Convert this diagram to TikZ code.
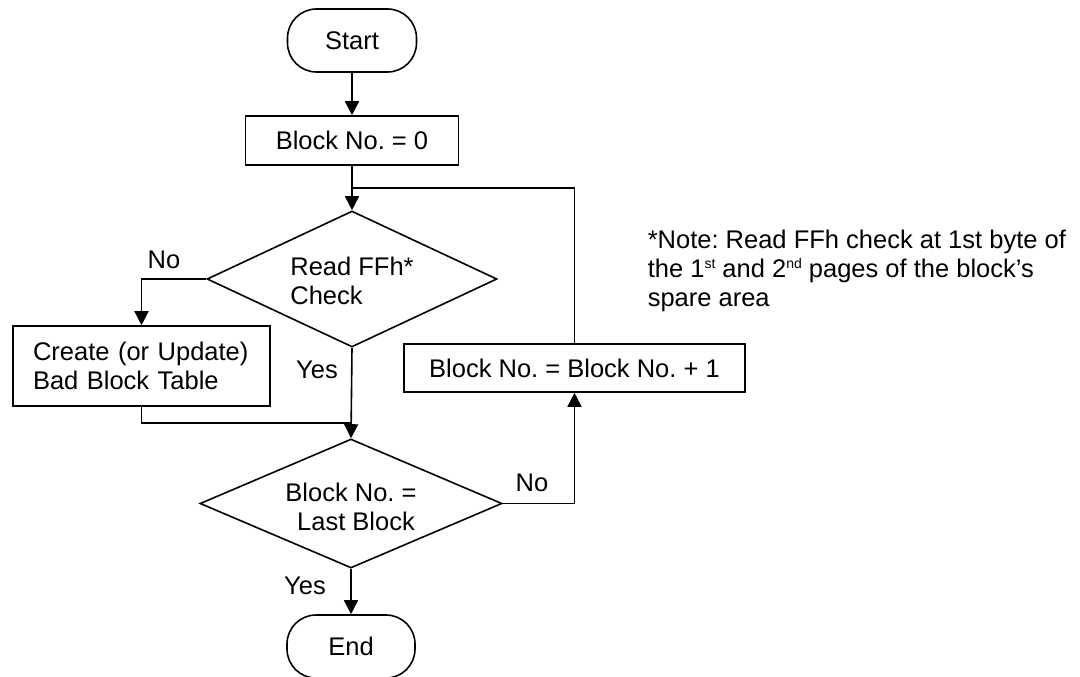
\documentclass[tikz,border=0pt]{standalone}
\usepackage{fontspec}
\setmainfont{Liberation Sans}
\usetikzlibrary{shapes.geometric,arrows.meta}
\newcommand\supx[1]{\raisebox{8.5pt}{\fontsize{14}{14}\selectfont #1}}
\begin{document}
\begin{tikzpicture}[x=1pt,y=-1pt,line width=1.6pt,
  font=\fontsize{25.5}{29}\selectfont\frenchspacing,
  term/.style={draw,rounded corners=29pt,minimum width=129pt,minimum height=63pt,inner sep=0},
  proc/.style={draw,inner sep=0},
  dec/.style={draw,diamond,inner sep=0},
  arr/.style={-{Triangle[width=14pt,length=14pt]}},
  lbl/.style={inner sep=0,anchor=base}
]
\useasboundingbox (0,0) rectangle (1080,677);
\clip (0,0) rectangle (1080,677);
\node[term] (start) at (352,40.5) {Start};
\node[proc,minimum width=213pt,minimum height=49pt] (b0) at (352,140.5) {Block No. = 0};
\node[dec,minimum width=290pt,minimum height=136pt] (d1) at (352,279) {};
\node[align=left,inner sep=0] (d1t) at (352,281) {Read FFh*\\Check};
\node[proc,text width=217pt,align=left,inner xsep=20pt,minimum height=80pt] (cr) at (141.5,366) {Create (or Update)\\Bad Block Table};
\node[proc,minimum width=341pt,minimum height=48pt] (inc) at (574.5,368) {Block No. = Block No. + 1};
\node[dec,minimum width=302pt,minimum height=129pt] (d2) at (351,503.5) {};
\node[align=center,inner sep=0] (d2t) at (351,507) {Block No. =\\\hspace{10pt}Last Block};
\node[term,minimum width=128pt] (end) at (351,646.5) {End};
\node[align=left,anchor=north west,inner sep=0] (note) at (647,229) {*Note: Read FFh check at 1st byte of\\the 1\supx{st} and 2\supx{nd} pages of the block’s\\spare area};
\coordinate (j1) at (352,188);
\coordinate (j2) at (351,423);
\draw[arr] (start) -- (b0);
\draw[arr] (b0) -- (d1);
\draw (inc.north) |- (j1);
\draw[arr] (d1.west) -| (cr.north);
\draw[arr] (d1.south) -- (d2.north);
\draw (cr.south) |- (j2);
\draw[arr] (d2.east) -| (inc.south);
\draw[arr] (d2.south) -- (end.north);
\node[lbl] (no1) at (164,268) {No};
\node[lbl] (yes1) at (317,378) {Yes};
\node[lbl] (no2) at (532,491) {No};
\node[lbl] (yes2) at (305,594) {Yes};
\end{tikzpicture}
\end{document}
